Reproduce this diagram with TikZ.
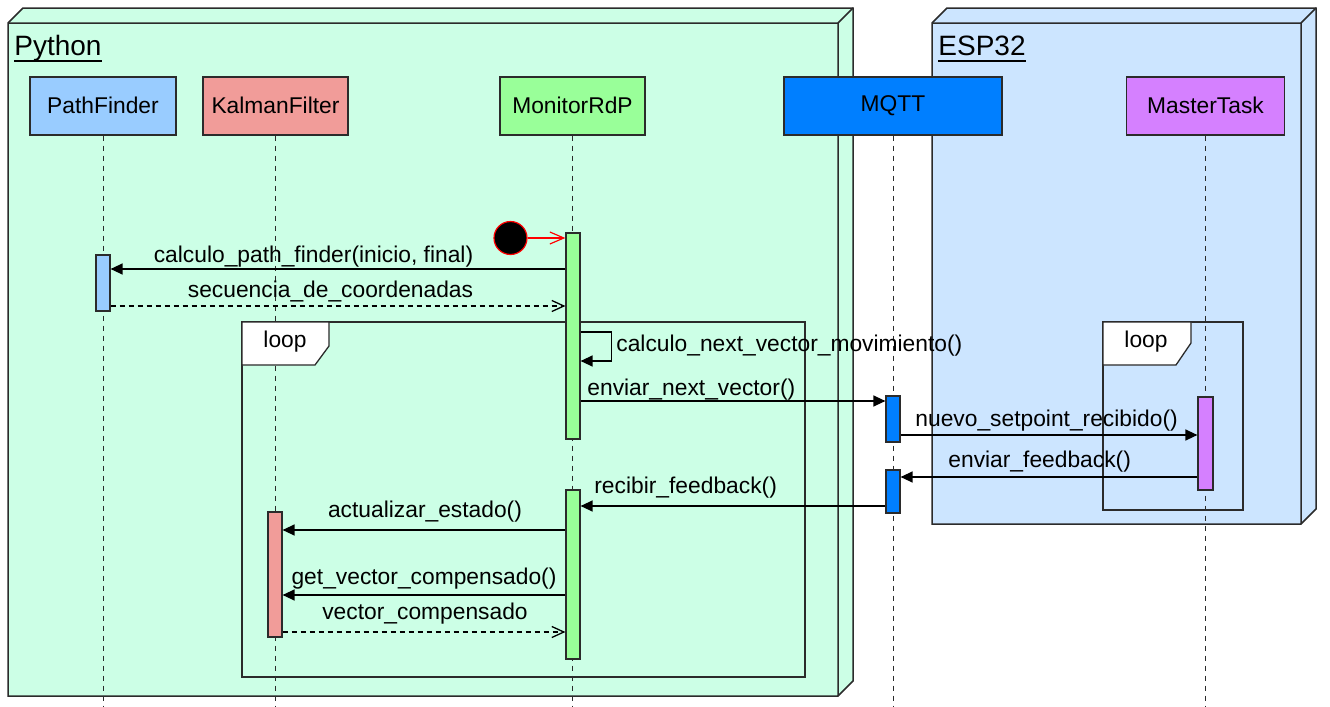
\documentclass[tikz,border=0pt]{standalone}
\usepackage{fontspec}
\setmainfont{Liberation Sans}
\usetikzlibrary{arrows.meta,fit,calc}

\definecolor{pybg}{HTML}{CCFFE6}
\definecolor{espbg}{HTML}{CCE5FF}
\definecolor{pfblue}{HTML}{99CCFF}
\definecolor{kfred}{HTML}{F19C99}
\definecolor{mongreen}{HTML}{99FF99}
\definecolor{mqttblue}{HTML}{007FFF}
\definecolor{mtpurple}{HTML}{D580FF}
\definecolor{edge}{HTML}{2B2B2B}

\newcommand{\msgfont}{\fontsize{11.4}{13.7}\selectfont}
\newcommand{\titlefont}{\fontsize{14}{16.8}\selectfont}

\tikzset{
  head/.style={draw=edge, line width=0.6pt, minimum height=29pt, inner sep=0pt, font=\msgfont},
  bar/.style={draw=edge, line width=0.6pt, inner sep=0pt},
  lifeline/.style={draw=edge, line width=0.5pt, dash pattern=on 2.5pt off 2.5pt},
  call/.style={line width=0.65pt, -{Triangle[length=6pt,width=5.5pt]}},
  reply/.style={line width=0.65pt, dash pattern=on 2.5pt off 2pt, -{Straight Barb[length=6pt,width=5.5pt]}},
  msg/.style={font=\msgfont, inner sep=0pt},
  frame/.style={draw=edge, line width=0.65pt},
  box3d/.style={draw=edge, line width=0.75pt},
}

\begin{document}
\begin{tikzpicture}[x=0.5pt, y=-0.5pt]
\useasboundingbox (0,0) rectangle (1330,707);

% deployment boxes
\filldraw[box3d, fill=pybg] (8,23) -- (23,8) -- (853,8) -- (853,681) -- (838,696) -- (8,696) -- cycle;
\draw[box3d] (8,23) -- (838,23) -- (853,8) (838,23) -- (838,696);
\node[anchor=base west, inner sep=0pt, font=\titlefont] (py) at (14,55) {Python};
\draw[line width=1pt] ($(py.base west)+(0,5.5)$) -- ($(py.base east)+(0,5.5)$);

\filldraw[box3d, fill=espbg] (932,23) -- (947,8) -- (1316,8) -- (1316,509) -- (1301,524) -- (932,524) -- cycle;
\draw[box3d] (932,23) -- (1301,23) -- (1316,8) (1301,23) -- (1301,524);
\node[anchor=base west, inner sep=0pt, font=\titlefont] (esp) at (938,55) {ESP32};
\draw[line width=1pt] ($(esp.base west)+(0,5.5)$) -- ($(esp.base east)+(0,5.5)$);

% lifelines
\coordinate (bot) at (0,707);
\node[head, fill=pfblue, minimum width=73pt] (pf) at (103,106) {\raisebox{1pt}{PathFinder}};
\node[head, fill=kfred, minimum width=72.5pt] (kf) at (275.5,106) {\raisebox{1pt}{KalmanFilter}};
\node[head, fill=mongreen, minimum width=72.5pt] (mon) at (572.5,106) {\raisebox{1pt}{MonitorRdP}};
\node[head, fill=mqttblue, minimum width=109pt] (mq) at (893,106) {\raisebox{1pt}{MQTT}};
\node[head, fill=mtpurple, minimum width=79pt] (mt) at (1205.5,106) {\raisebox{1pt}{MasterTask}};
\foreach \l in {pf,kf,mon,mq,mt}
  \draw[lifeline] (\l.south) -- (\l.south |- bot);

% loop frames
\draw[frame] (242,322) rectangle (805,677);
\filldraw[frame, fill=white] (242,322) -- (329,322) -- (329,346) -- (315,365) -- (242,365) -- cycle;
\node[msg] (loopa) at (285,342) {loop};
\draw[frame] (1103,322) rectangle (1243,510);
\filldraw[frame, fill=white] (1103,322) -- (1191,322) -- (1191,343) -- (1176,365) -- (1103,365) -- cycle;
\node[msg] (loopb) at (1146,342) {loop};

% activations
\node[bar, fill=pfblue, fit={(96,255) (110,311)}] (pf1) {};
\node[bar, fill=mongreen, fit={(566,233) (580,439)}] (mon1) {};
\node[bar, fill=mongreen, fit={(566,490) (580,659)}] (mon2) {};
\node[bar, fill=kfred, fit={(268,512) (282,637)}] (kf1) {};
\node[bar, fill=mqttblue, fit={(886,396) (900,442)}] (mq1) {};
\node[bar, fill=mqttblue, fit={(886,470) (900,513)}] (mq2) {};
\node[bar, fill=mtpurple, fit={(1198,397) (1213,490)}] (mt1) {};

% start
\node[circle, fill=black, draw=red, line width=0.6pt, minimum size=16.5pt, inner sep=0pt] (init) at (510.5,238) {};
\draw[red, line width=0.6pt, -{Straight Barb[length=7pt,width=6pt]}] (init.east) -- (mon1.west |- init);

% messages
\coordinate (m1) at (0,269);
\coordinate (m2) at (0,306);
\coordinate (m3) at (0,332);
\coordinate (m3b) at (0,361);
\coordinate (m4) at (0,401);
\coordinate (m5) at (0,435);
\coordinate (m6) at (0,477);
\coordinate (m7) at (0,506);
\coordinate (m8) at (0,530);
\coordinate (m9) at (0,595);
\coordinate (m10) at (0,632);

\draw[call] (mon1.west |- m1) -- (pf1.east |- m1);
\node[msg, anchor=base] (l1) at (313.5,262) {calculo\_path\_finder(inicio, final)};
\draw[reply] (pf1.east |- m2) -- (mon1.west |- m2);
\node[msg, anchor=base] (l2) at (330.5,297) {secuencia\_de\_coordenadas};
\draw[call] (mon1.east |- m3) -- ++(31,0) |- (mon1.east |- m3b);
\node[msg, anchor=base west] (l3) at (616,351) {calculo\_next\_vector\_movimiento()};
\draw[call] (mon1.east |- m4) -- (mq1.west |- m4);
\node[msg, anchor=base west] (l4) at (587,395) {enviar\_next\_vector()};
\draw[call] (mq1.east |- m5) -- (mt1.west |- m5);
\node[msg, anchor=base west] (l5) at (915,426) {nuevo\_setpoint\_recibido()};
\draw[call] (mt1.west |- m6) -- (mq2.east |- m6);
\node[msg, anchor=base west] (l6) at (948,467) {enviar\_feedback()};
\draw[call] (mq2.west |- m7) -- (mon2.east |- m7);
\node[msg, anchor=base west] (l7) at (594,493) {recibir\_feedback()};
\draw[call] (mon2.west |- m8) -- (kf1.east |- m8);
\node[msg, anchor=base] (l8) at (425,517) {actualizar\_estado()};
\draw[call] (mon2.west |- m9) -- (kf1.east |- m9);
\node[msg, anchor=base] (l9) at (424,584) {get\_vector\_compensado()};
\draw[reply] (kf1.east |- m10) -- (mon2.west |- m10);
\node[msg, anchor=base] (l10) at (425,619) {vector\_compensado};
\end{tikzpicture}
\end{document}
